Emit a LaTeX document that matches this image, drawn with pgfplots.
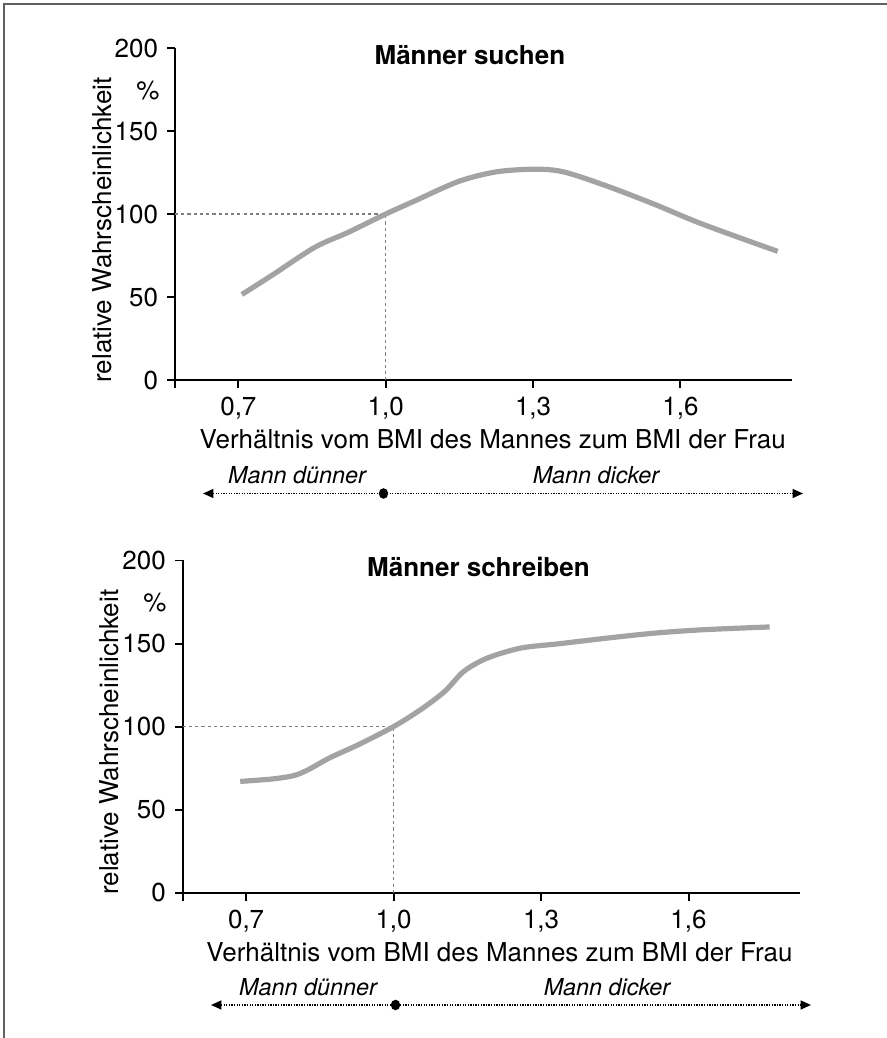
\documentclass[border=0pt]{standalone}
\usepackage{fontspec}
\setmainfont{TeX Gyre Heros}
\usepackage{pgfplots}
\pgfplotsset{compat=1.18}
\usetikzlibrary{arrows.meta}

\definecolor{curve}{gray}{0.64}
\definecolor{frame}{gray}{0.38}

\pgfplotsset{
  bmi/.style={
    scale only axis,
    xmin=0.571, xmax=1.827,
    ymin=0, ymax=200,
    axis x line*=bottom,
    axis y line*=left,
    axis line style={line width=0.75pt},
    tick style={line width=0.75pt, black},
    tick align=outside,
    major tick length=3pt,
    xtick={0.7,1.0,1.3,1.6},
    xticklabels={0{,}7,1{,}0,1{,}3,1{,}6},
    extra x ticks={0.571},
    extra x tick labels={},
    ytick={0,50,100,150,200},
    /pgf/number format/assume math mode=true,
    tick label style={font=\normalsize},
    every axis title shift=0pt,
    clip=false,
  },
}

\begin{document}
\begin{tikzpicture}

% Männer suchen
\begin{axis}[bmi,
  at={(67.375pt,253.33pt)}, anchor=south west,
  width=237.5pt, height=127.8pt,
  title={\bfseries Männer suchen},
  title style={at={(axis description cs:0.478,0.979)}, anchor=center},
  xlabel={Verhältnis vom BMI des Mannes zum BMI der Frau},
  xlabel style={at={(axis description cs:0.515,-0.205)}, anchor=base},
  ylabel={relative Wahrscheinlichkeit},
  ylabel style={at={(axis description cs:-0.118,0.452)}, anchor=center, rotate=0},
]
\addplot[gray, line width=0.45pt, dash pattern=on 1.2pt off 1.2pt]
  coordinates {(0.571,100) (1.0,100) (1.0,0)};
\addplot[curve, line width=2pt, smooth, tension=0.5]
  coordinates {
  (0.707,51.5) (0.768,63) (0.856,80) (0.924,89) (1.000,100)
  (1.060,108) (1.148,119.6) (1.225,125.4) (1.303,127) (1.362,125.4)
  (1.449,117) (1.546,106) (1.644,94) (1.798,77.5)
  };
\node at (axis description cs:-0.044,0.873) {\%};
\end{axis}

% Männer schreiben
\begin{axis}[bmi,
  at={(70.34pt,55.94pt)}, anchor=south west,
  width=237.7pt, height=127.9pt,
  title={\bfseries Männer schreiben},
  title style={at={(axis description cs:0.479,0.981)}, anchor=center},
  xlabel={Verhältnis vom BMI des Mannes zum BMI der Frau},
  xlabel style={at={(axis description cs:0.513,-0.206)}, anchor=base},
  ylabel={relative Wahrscheinlichkeit},
  ylabel style={at={(axis description cs:-0.119,0.453)}, anchor=center, rotate=0},
]
\addplot[gray, line width=0.45pt, dash pattern=on 1.2pt off 1.2pt]
  coordinates {(0.571,100) (1.0,100) (1.0,0)};
\addplot[curve, line width=2pt, smooth, tension=0.5]
  coordinates {
  (0.688,67) (0.754,68.5) (0.797,70.5) (0.826,74) (0.870,81.2)
  (0.929,89.2) (1.000,100) (1.055,110.2) (1.104,121.2) (1.143,133.3)
  (1.191,141.3) (1.259,147.3) (1.337,149.9) (1.435,153.3) (1.532,156.3)
  (1.629,158.3) (1.765,160)
  };
\node at (axis description cs:-0.045,0.874) {\%};
\end{axis}

% frame, arrows (image pixel coordinates, y downwards)
\begin{scope}[x=0.385pt, y=-0.385pt, yshift=399.63pt]
\useasboundingbox (0,0) rectangle (887,1038);
\draw[frame, line width=1.1pt] (4,1038) -- (4,4) -- (887,4);

\draw[line width=0.7pt, dash pattern=on 0.5pt off 0.5pt,
  {Triangle[length=4pt,width=3.4pt]}-{Triangle[length=4pt,width=3.4pt]}]
  (203,493.5) -- (803,493.5);
\fill (383.5,493.5) ellipse [x radius=4.7, y radius=5.3];
\node[anchor=base, font=\small\itshape] at (297,484) {Mann dünner};
\node[anchor=base, font=\small\itshape] at (596,484) {Mann dicker};

\draw[line width=0.7pt, dash pattern=on 0.5pt off 0.5pt,
  {Triangle[length=4pt,width=3.4pt]}-{Triangle[length=4pt,width=3.4pt]}]
  (211,1005) -- (811,1005);
\fill (395.5,1005) ellipse [x radius=4.7, y radius=5.3];
\node[anchor=base, font=\small\itshape] at (308,995.5) {Mann dünner};
\node[anchor=base, font=\small\itshape] at (607,995.5) {Mann dicker};
\end{scope}

\end{tikzpicture}
\end{document}
